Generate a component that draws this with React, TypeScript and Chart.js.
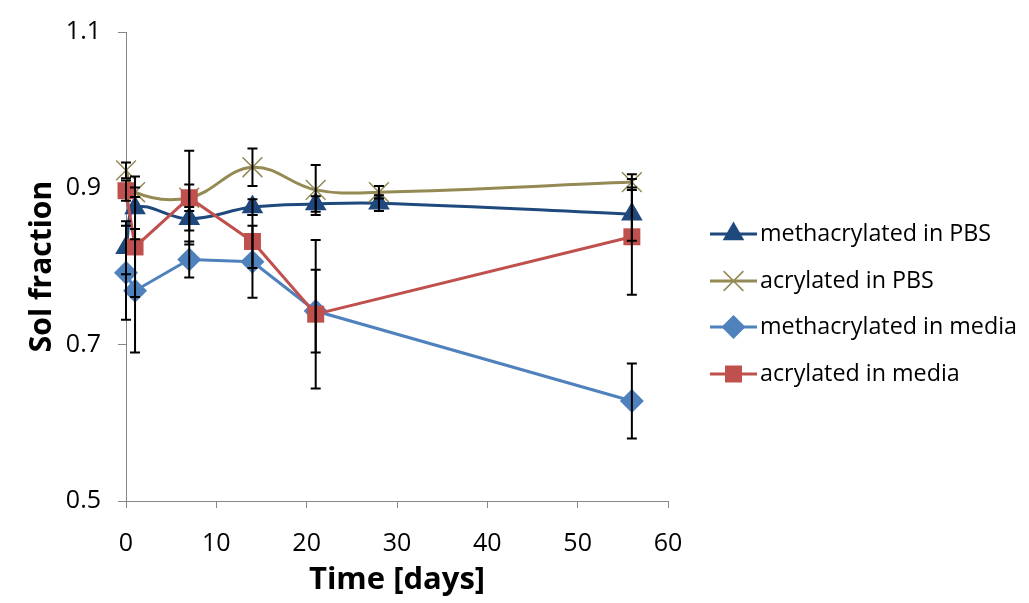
import React, { useEffect, useRef } from "react";
import { Chart, registerables } from "chart.js";

Chart.register(...registerables);

const SERIES_NAMES = [
  "methacrylated in PBS",
  "acrylated in PBS",
  "methacrylated in media",
  "acrylated in media",
];
const DAYS_PBS = [0, 1, 7, 14, 21, 28, 56];
const DAYS_MEDIA = [0, 1, 7, 14, 21, 56];

const METH_PBS = [0.824, 0.875, 0.861, 0.876, 0.880, 0.881, 0.867];
const METH_PBS_ERR = [0.034, 0.04, 0.015, 0.01, 0.01, 0.01, 0.034];
const ACR_PBS = [0.923, 0.895, 0.888, 0.927, 0.898, 0.895, 0.908];
const ACR_PBS_ERR = [0.01, 0.006, 0.017, 0.024, 0.032, 0.008, 0.01];
const METH_MEDIA = [0.792, 0.769, 0.809, 0.806, 0.743, 0.628];
const METH_MEDIA_ERR = [0.06, 0.079, 0.023, 0.046, 0.053, 0.048];
const ACR_MEDIA = [0.897, 0.825, 0.888, 0.832, 0.739, 0.838];
const ACR_MEDIA_ERR = [0.013, 0.064, 0.06, 0.034, 0.095, 0.074];

const X_TICKS = [0, 10, 20, 30, 40, 50, 60];
const Y_TICKS = [0.5, 0.7, 0.9, 1.1];
const Y_TICK_LABELS = ["0.5", "0.7", "0.9", "1.1"];

const COLORS = ["#1F497D", "#948A54", "#4F81BD", "#C0504D"];
const MARKERS = ["triangle", "crossRot", "rectRot", "rect"];
const RADII = [12.5, 14, 12, 12];
const FONT = "'Open Sans', 'DejaVu Sans', sans-serif";
const AXIS_GRAY = "#868686";

function pts(xs: number[], ys: number[]) {
  return xs.map((x, i) => ({ x, y: ys[i] }));
}

function drawMarker(ctx: CanvasRenderingContext2D, kind: string, x: number, y: number, r: number, color: string) {
  ctx.save();
  ctx.fillStyle = color;
  ctx.strokeStyle = color;
  ctx.beginPath();
  if (kind === "triangle") {
    const w = r * Math.sqrt(3) / 2;
    ctx.moveTo(x, y - r);
    ctx.lineTo(x + w, y + r / 2);
    ctx.lineTo(x - w, y + r / 2);
    ctx.closePath();
    ctx.fill();
  } else if (kind === "rectRot") {
    ctx.moveTo(x, y - r);
    ctx.lineTo(x + r, y);
    ctx.lineTo(x, y + r);
    ctx.lineTo(x - r, y);
    ctx.closePath();
    ctx.fill();
  } else if (kind === "rect") {
    const s = r * Math.SQRT1_2;
    ctx.rect(x - s, y - s, 2 * s, 2 * s);
    ctx.fill();
  } else {
    ctx.lineWidth = 1.5;
    const d = r * Math.SQRT1_2;
    ctx.moveTo(x - d, y - d);
    ctx.lineTo(x + d, y + d);
    ctx.moveTo(x + d, y - d);
    ctx.lineTo(x - d, y + d);
    ctx.stroke();
  }
  ctx.restore();
}

const errorBarPlugin = {
  id: "errorBars",
  afterDatasetsDraw(chart: any) {
    const ctx = chart.ctx;
    const xs = chart.scales.x;
    const ys = chart.scales.y;
    ctx.save();
    ctx.strokeStyle = "#000";
    ctx.lineWidth = 2;
    chart.data.datasets.forEach((ds: any) => {
      ds.data.forEach((p: any, i: number) => {
        const e = ds.errors[i];
        const px = xs.getPixelForValue(p.x);
        const top = ys.getPixelForValue(p.y + e);
        const bot = ys.getPixelForValue(p.y - e);
        ctx.beginPath();
        ctx.moveTo(px, top);
        ctx.lineTo(px, bot);
        ctx.moveTo(px - 5, top);
        ctx.lineTo(px + 5, top);
        ctx.moveTo(px - 5, bot);
        ctx.lineTo(px + 5, bot);
        ctx.stroke();
      });
    });
    ctx.restore();
  },
};

const legendPlugin = {
  id: "customLegend",
  afterDraw(chart: any) {
    const ctx = chart.ctx;
    const x0 = 710;
    const x1 = 757;
    const rows = [234, 281, 327, 374];
    ctx.save();
    chart.data.datasets.forEach((ds: any, i: number) => {
      const y = rows[i];
      ctx.strokeStyle = ds.borderColor;
      ctx.lineWidth = 3;
      ctx.beginPath();
      ctx.moveTo(x0, y);
      ctx.lineTo(x1, y);
      ctx.stroke();
      drawMarker(ctx, MARKERS[i], (x0 + x1) / 2, y, RADII[i], ds.borderColor);
      ctx.fillStyle = "#000";
      ctx.font = `23.3px ${FONT}`;
      ctx.textBaseline = "middle";
      ctx.textAlign = "left";
      ctx.fillText(ds.label, 760, y);
    });
    ctx.restore();
  },
};

export default function App() {
  const ref = useRef<HTMLCanvasElement>(null);
  useEffect(() => {
    if (!ref.current) return;
    const seriesData = [
      { d: pts(DAYS_PBS, METH_PBS), e: METH_PBS_ERR, tension: 0.4 },
      { d: pts(DAYS_PBS, ACR_PBS), e: ACR_PBS_ERR, tension: 0.4 },
      { d: pts(DAYS_MEDIA, METH_MEDIA), e: METH_MEDIA_ERR, tension: 0 },
      { d: pts(DAYS_MEDIA, ACR_MEDIA), e: ACR_MEDIA_ERR, tension: 0 },
    ];
    const chart = new Chart(ref.current, {
      type: "line",
      data: {
        datasets: seriesData.map((s, i) => ({
          label: SERIES_NAMES[i],
          data: s.d,
          errors: s.e,
          borderColor: COLORS[i],
          backgroundColor: COLORS[i],
          borderWidth: 3,
          tension: s.tension,
          pointStyle: MARKERS[i],
          pointRadius: RADII[i],
          pointBorderWidth: i === 1 ? 1.5 : 0,
          pointBackgroundColor: COLORS[i],
          pointBorderColor: COLORS[i],
          clip: false,
          order: 4 - i,
        })) as any,
      },
      options: {
        animation: false,
        responsive: false,
        layout: { padding: { top: 29, right: 361, bottom: 0, left: 0 } },
        plugins: { legend: { display: false }, tooltip: { enabled: false } },
        scales: {
          x: {
            type: "linear",
            min: 0,
            max: 60,
            afterBuildTicks: (s: any) => {
              s.ticks = X_TICKS.map((v) => ({ value: v }));
            },
            afterFit: (s: any) => {
              s.height = 102;
            },
            grid: { drawOnChartArea: false, color: AXIS_GRAY, tickLength: 7 },
            border: { color: AXIS_GRAY, width: 1 },
            ticks: { color: "#000", font: { family: FONT, size: 25 }, padding: 21, maxRotation: 0 },
            title: {
              display: true,
              text: "Time [days]",
              color: "#000",
              font: { family: FONT, size: 31, weight: "bold" },
              padding: { top: 0, bottom: 4 },
            },
          },
          y: {
            type: "linear",
            min: 0.5,
            max: 1.1,
            afterBuildTicks: (s: any) => {
              s.ticks = Y_TICKS.map((v) => ({ value: v }));
            },
            afterFit: (s: any) => {
              s.width = 126;
            },
            grid: { drawOnChartArea: false, color: AXIS_GRAY, tickLength: 8 },
            border: { color: AXIS_GRAY, width: 1 },
            ticks: {
              color: "#000",
              font: { family: FONT, size: 25 },
              padding: 17,
              callback: (v: any) => {
                const idx = Y_TICKS.findIndex((t) => Math.abs(t - v) < 1e-9);
                return idx >= 0 ? Y_TICK_LABELS[idx] : "";
              },
            },
            title: {
              display: true,
              text: "Sol fraction",
              color: "#000",
              font: { family: FONT, size: 30, weight: "bold" },
              padding: { top: 24, bottom: 0 },
            },
          },
        },
      },
      plugins: [errorBarPlugin, legendPlugin],
    } as any);
    return () => chart.destroy();
  }, []);
  return (
    <div style={{ position: "absolute", left: 0, top: 0, width: 1029, height: 603, background: "#fff" }}>
      <canvas ref={ref} width={1029} height={603} style={{ width: 1029, height: 603, display: "block" }} />
    </div>
  );
}
